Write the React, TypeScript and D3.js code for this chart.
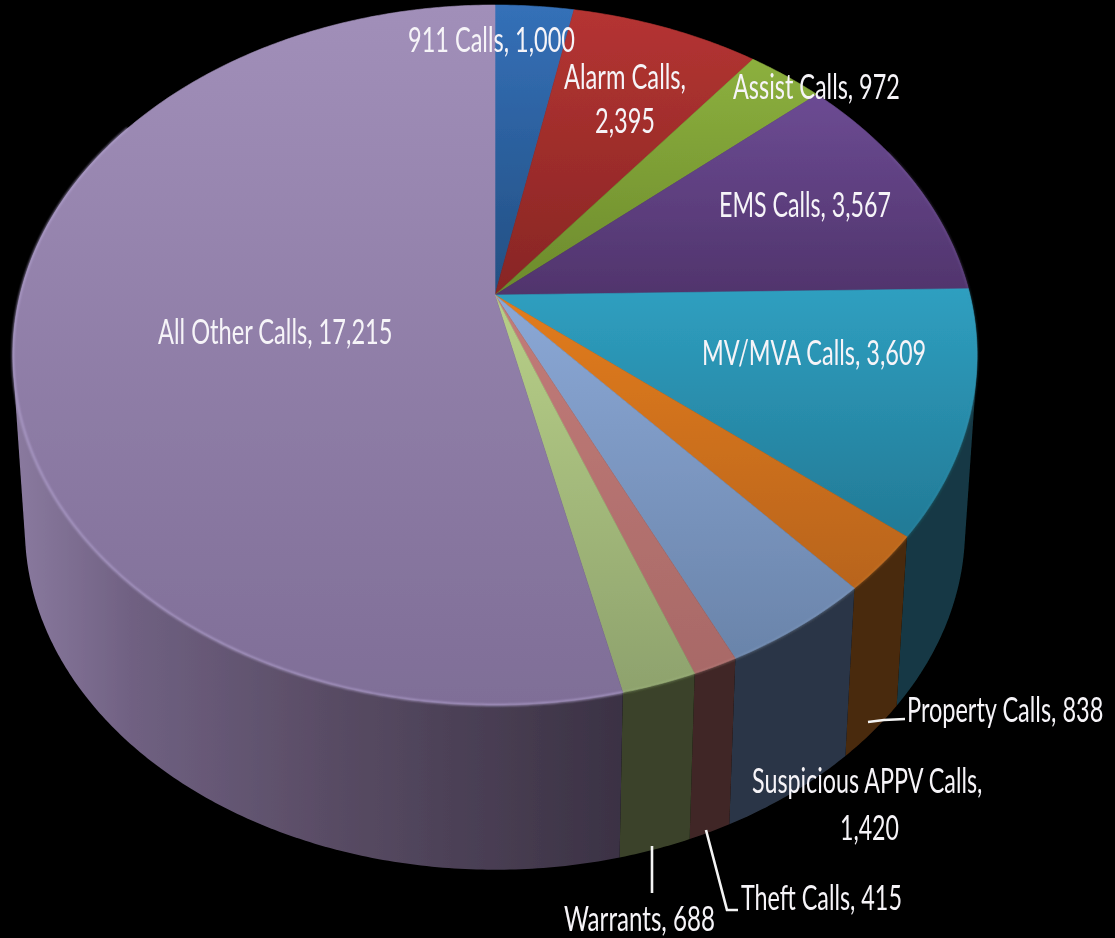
import * as d3 from "d3";

const WIDTH = 1115;
const HEIGHT = 938;

const categories = [
  "911 Calls",
  "Alarm Calls",
  "Assist Calls",
  "EMS Calls",
  "MV/MVA Calls",
  "Property Calls",
  "Suspicious APPV Calls",
  "Theft Calls",
  "Warrants",
  "All Other Calls",
];
const callCounts = [1000, 2395, 972, 3567, 3609, 838, 1420, 415, 688, 17215];

/** Top face gradient, far edge to near edge of each slice. */
const topLight = ["#3470b8", "#b53432", "#8cb03e", "#6c4b93", "#2f9fc0", "#e27c1f", "#8ba8d6", "#c27c79", "#b8d088", "#a18fb9"];
const topDark = ["#234f82", "#872624", "#6c8a2c", "#50346c", "#227a96", "#b8641b", "#6a84aa", "#a86967", "#8ea26d", "#7f6e97"];
const rimColors = ["#4a86cc", "#cc5a58", "#a8c860", "#8a6cb0", "#3a97b2", "#d08a40", "#8ca6c8", "#c08c8a", "#a8c088", "#b5a5d2"];
const rimOpacity = [0.3, 0.3, 0.3, 0.3, 0.3, 0.3, 0.4, 0.4, 0.4, 0.8];

/** Side wall gradient, left to right. */
const sideLeft = ["#1c3350", "#401a18", "#333f1c", "#33224a", "#12363f", "#4d2b0c", "#2a3344", "#442a29", "#3d452a", "#8a7a9f"];
const sideRight = ["#1c3350", "#401a18", "#333f1c", "#33224a", "#143944", "#4a290b", "#2c3646", "#3f2726", "#3b4329", "#3b3244"];

/** Label text lines, in the same order as categories. */
const labelLines = [
  ["911 Calls, 1,000"],
  ["Alarm Calls,", "2,395"],
  ["Assist Calls, 972"],
  ["EMS Calls, 3,567"],
  ["MV/MVA Calls, 3,609"],
  ["Property Calls, 838"],
  ["Suspicious APPV Calls,", "1,420"],
  ["Theft Calls, 415"],
  ["Warrants, 688"],
  ["All Other Calls, 17,215"],
];

// x, width and baseline for each label line
const labelLayout = [
  [[408, 167, 52]],
  [[564, 122, 89], [595, 60, 133]],
  [[733, 167, 99]],
  [[719, 172, 217]],
  [[702, 225, 365]],
  [[907, 197, 722]],
  [[752, 232, 793], [840, 59, 840]],
  [[741, 161, 910]],
  [[564, 151, 931]],
  [[158, 235, 344]],
];

// leader lines drawn in the picture
const leaders = [
  [[868, 722], [884, 720], [905, 719]],
  [[706, 830], [727, 910], [738, 910]],
  [[652, 846], [652, 893]],
];

const LABEL_FONT = "Lato";
const LABEL_SIZE = 35;

// perspective of the disc: near edge is bigger than far edge
const APEX_X = 495;
const APEX_Y = 295;
const RADIUS_X = 475;
const RADIUS_Y = 339.7;
const TILT = 0.1714;
const FLOOR_SCALE = 0.975;
const FLOOR_Y = 470;

function topPoint(angle: number): [number, number] {
  const u = Math.sin(angle);
  const v = -Math.cos(angle);
  const w = 1 - TILT * v;
  return [APEX_X + (RADIUS_X * u) / w, APEX_Y + (RADIUS_Y * v) / w];
}

function floorPoint(angle: number): [number, number] {
  const [x, y] = topPoint(angle);
  return [APEX_X + FLOOR_SCALE * (x - APEX_X), FLOOR_Y + FLOOR_SCALE * (y - APEX_Y)];
}

function arcAngles(a0: number, a1: number) {
  const n = Math.max(2, Math.ceil((a1 - a0) / 0.01));
  return d3.range(n + 1).map((i) => a0 + ((a1 - a0) * i) / n);
}

const pieLayout = d3
  .pie<number>()
  .sort(null)
  .value((d) => d);
const slices = pieLayout(callCounts);
const line = d3.line();

// each slice gets its own vertical gradient over its own extent
const sliceExtents = slices.map((s) =>
  d3.extent([APEX_Y, ...arcAngles(s.startAngle, s.endAngle).map((a) => topPoint(a)[1])]) as [number, number]
);

// sides only show on the near half and the two flanks of the disc
const SIDE_FROM = Math.PI * 0.35;
const SIDE_TO = Math.PI * 1.68;

// Labels are squeezed sideways to the narrow face of the original
const measure = document.createElement("canvas").getContext("2d")!;
measure.font = `${LABEL_SIZE}px ${LABEL_FONT}`;

export default function App() {
  return (
    <svg
      width={WIDTH}
      height={HEIGHT}
      viewBox={`0 0 ${WIDTH} ${HEIGHT}`}
      style={{ position: "absolute", left: 0, top: 0, background: "#000" }}
      role="img"
      aria-label="Calls by type, 3D pie chart"
    >
      <defs>
        <filter id="soft" x="-5%" y="-5%" width="110%" height="110%">
          <feGaussianBlur stdDeviation="0.55" />
        </filter>
        <filter id="rimBlur" x="-5%" y="-5%" width="110%" height="110%">
          <feGaussianBlur stdDeviation="0.8" />
        </filter>
        {categories.map((c, i) => (
          <linearGradient
            key={c}
            id={`top${i}`}
            gradientUnits="userSpaceOnUse"
            x1={0}
            x2={0}
            y1={sliceExtents[i][0]}
            y2={sliceExtents[i][1]}
          >
            <stop offset="0" stopColor={topLight[i]} />
            <stop offset="1" stopColor={topDark[i]} />
          </linearGradient>
        ))}
        {categories.map((c, i) => (
          <linearGradient key={c} id={`side${i}`} gradientUnits="userSpaceOnUse" x1={15} x2={620} y1={0} y2={0}>
            <stop offset="0" stopColor={sideLeft[i]} />
            {i === 9 && <stop offset="0.2" stopColor="#6f6081" />}
            {i === 9 && <stop offset="0.5" stopColor="#5a4d66" />}
            <stop offset="1" stopColor={sideRight[i]} />
          </linearGradient>
        ))}
      </defs>
      <rect width={WIDTH} height={HEIGHT} fill="#000" />
      <g filter="url(#soft)">
        {slices.map((s, i) => {
          const a0 = Math.max(s.startAngle, SIDE_FROM);
          const a1 = Math.min(s.endAngle, SIDE_TO);
          if (a1 <= a0) return null;
          const angles = arcAngles(a0, a1);
          const hull = d3.polygonHull([...angles.map(topPoint), ...angles.map(floorPoint)]);
          return <path key={categories[i]} d={`${line(hull!)}Z`} fill={`url(#side${i})`} />;
        })}
        {slices.map((s, i) => {
          const rim = arcAngles(s.startAngle, s.endAngle).map(topPoint);
          return (
            <path
              key={categories[i]}
              d={`${line([[APEX_X, APEX_Y], ...rim])}Z`}
              fill={`url(#top${i})`}
              stroke={`url(#top${i})`}
              strokeWidth={0.6}
            />
          );
        })}
        {slices.map((s, i) => {
          const a0 = Math.max(s.startAngle, SIDE_FROM);
          const a1 = Math.min(s.endAngle, SIDE_TO);
          if (a1 <= a0) return null;
          return (
            <path
              key={categories[i]}
              d={line(arcAngles(a0, a1).map(topPoint))!}
              fill="none"
              stroke={rimColors[i]}
              strokeWidth={2}
              opacity={rimOpacity[i]}
              filter="url(#rimBlur)"
            />
          );
        })}
        {leaders.map((pts, i) => (
          <path
            key={i}
            d={line(pts as [number, number][])!}
            fill="none"
            stroke="#f4f4f4"
            strokeWidth={2.6}
          />
        ))}
        {labelLines.map((lines, i) =>
          lines.map((text, j) => {
            const [x, w, y] = labelLayout[i][j];
            const squeeze = w / measure.measureText(text).width;
            return (
              <text
                key={text}
                transform={`translate(${x},${y}) scale(${squeeze},1)`}
                fontFamily={LABEL_FONT}
                fontSize={LABEL_SIZE}
                fill="#f6f4f8"
              >
                {text}
              </text>
            );
          })
        )}
      </g>
    </svg>
  );
}
